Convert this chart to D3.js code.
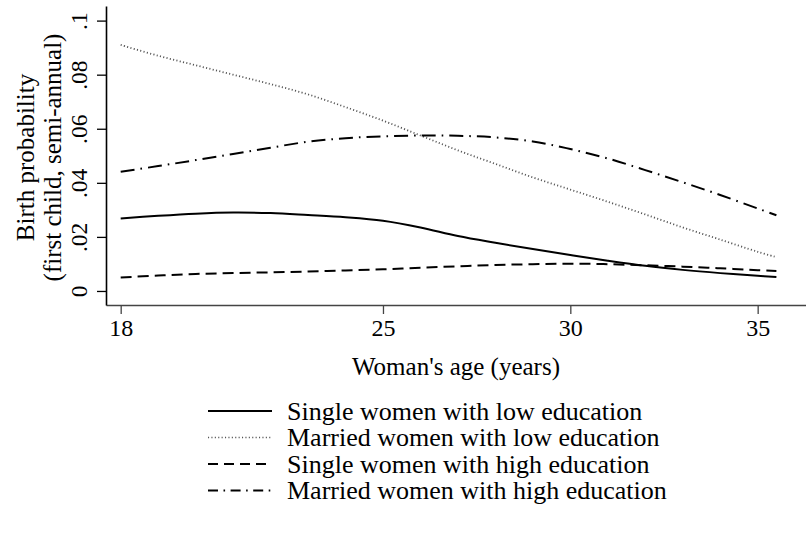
<!DOCTYPE html>
<html>
<head>
<meta charset="utf-8">
<script src="https://cdn.jsdelivr.net/npm/d3@7"></script>
<style>
  body { margin: 0; background: #fff; }
  svg { font-family: "Liberation Serif", "Times New Roman", serif; }
</style>
</head>
<body>
<div id="chart"></div>
<script>
// age grid (years) and fitted birth probabilities
const ages = [18, 19, 20, 21, 22, 23, 24, 25, 26, 27, 28, 29, 30, 31, 32, 33, 34, 35, 35.5];
const singleLow   = [.0268, .0278, .0286, .0290, .0288, .0281, .0273, .0260, .0235, .0203, .0178, .0155, .0133, .0112, .0093, .0078, .0066, .0056, .0052];
const marriedLow  = [.0910, .0870, .0835, .0800, .0765, .0727, .0680, .0630, .0575, .0520, .0470, .0420, .0375, .0330, .0283, .0235, .0190, .0145, .0125];
const singleHigh  = [.0050, .0057, .0063, .0066, .0069, .0072, .0076, .0080, .0086, .0091, .0096, .0099, .0101, .0099, .0095, .0090, .0084, .0077, .0074];
const marriedHigh = [.0441, .0462, .0484, .0507, .0530, .0552, .0565, .0572, .0575, .0574, .0568, .0553, .0525, .0490, .0447, .0402, .0355, .0305, .0280];

const xTicks = [18, 25, 30, 35];
const yTicks = [0, .02, .04, .06, .08, .1];
const yTickLabels = ["0", ".02", ".04", ".06", ".08", ".1"];

const seriesNames = [
  "Single women with low education",
  "Married women with low education",
  "Single women with high education",
  "Married women with high education"
];
const seriesValues = [singleLow, marriedLow, singleHigh, marriedHigh];

// line styles per series
const styles = [
  { stroke: "#000", width: 2, dash: null },
  { stroke: "#555", width: 1.8, dash: "1.1,2.3" },
  { stroke: "#000", width: 2, dash: "11,6" },
  { stroke: "#000", width: 2, dash: "14,6,1.6,6" }
];

const W = 806, H = 536;
const plot = { left: 106, right: 806, top: 6, bottom: 305 };

const svg = d3.select("#chart").append("svg")
  .attr("width", W)
  .attr("height", H);

const x = d3.scaleLinear()
  .domain([17.608, 36.29])
  .range([plot.left, plot.right]);

const y = d3.scaleLinear()
  .domain([-0.00519, 0.1054])
  .range([plot.bottom, plot.top]);

///////////////////////////// Axes

const xAxis = svg.append("g")
  .attr("transform", "translate(0," + plot.bottom + ")")
  .call(d3.axisBottom(x).tickValues(xTicks).tickSize(9).tickSizeOuter(0).tickPadding(5).tickFormat(d3.format("d")));
xAxis.select(".domain").attr("stroke", "#444").attr("stroke-width", 1.6);
xAxis.selectAll(".tick line").attr("stroke", "#444").attr("stroke-width", 1.3);
xAxis.selectAll(".tick text")
  .attr("font-family", "Liberation Serif, serif")
  .attr("font-size", 24)
  .attr("fill", "#000");

const yAxis = svg.append("g")
  .attr("transform", "translate(" + plot.left + ",0)")
  .call(d3.axisLeft(y).tickValues(yTicks).tickSize(9).tickSizeOuter(0)
    .tickFormat((d, i) => yTickLabels[i]));
yAxis.select(".domain").attr("stroke", "#000").attr("stroke-width", 1.6);
yAxis.selectAll(".tick line").attr("stroke", "#000").attr("stroke-width", 1.3);
yAxis.selectAll(".tick text")
  .attr("font-family", "Liberation Serif, serif")
  .attr("font-size", 23.5)
  .attr("fill", "#000")
  .attr("x", null)
  .attr("dy", null)
  .attr("text-anchor", "middle")
  .attr("transform", "translate(-19,0) rotate(-90)");

// axis titles
svg.append("text")
  .attr("x", (plot.left + plot.right) / 2)
  .attr("y", 375)
  .attr("text-anchor", "middle")
  .attr("font-size", 25)
  .text("Woman's age (years)");

const yTitle = svg.append("text")
  .attr("transform", "translate(0," + ((plot.top + plot.bottom) / 2 + 2) + ") rotate(-90)")
  .attr("text-anchor", "middle")
  .attr("font-size", 25);
yTitle.append("tspan").attr("x", 0).attr("y", 34).text("Birth probability");
yTitle.append("tspan").attr("x", 0).attr("y", 61).text("(first child, semi-annual)");

///////////////////////////// Lines

const line = d3.line()
  .x(d => x(d.age))
  .y(d => y(d.v))
  .curve(d3.curveCatmullRom.alpha(0.5));

seriesValues.forEach((vals, i) => {
  const data = ages.map((a, j) => ({ age: a, v: vals[j] }));
  svg.append("path")
    .datum(data)
    .attr("fill", "none")
    .attr("stroke", styles[i].stroke)
    .attr("stroke-width", styles[i].width)
    .attr("stroke-dasharray", styles[i].dash)
    .attr("d", line);
});

///////////////////////////// Legend

const legend = svg.append("g");
const rowY = [411, 437.5, 464, 490.5];
seriesNames.forEach((name, i) => {
  const g = legend.append("g").attr("transform", "translate(0," + rowY[i] + ")");
  g.append("line")
    .attr("x1", 208).attr("x2", 272)
    .attr("y1", 0).attr("y2", 0)
    .attr("stroke", styles[i].stroke)
    .attr("stroke-width", i === 1 ? 1.4 : styles[i].width)
    .attr("stroke-dasharray", i === 3 ? "10,5.5,1.6,5.5" : (i === 2 ? "10,6" : styles[i].dash));
  g.append("text")
    .attr("x", 287)
    .attr("y", 8.5)
    .attr("font-size", 26)
    .text(name);
});
</script>
</body>
</html>
